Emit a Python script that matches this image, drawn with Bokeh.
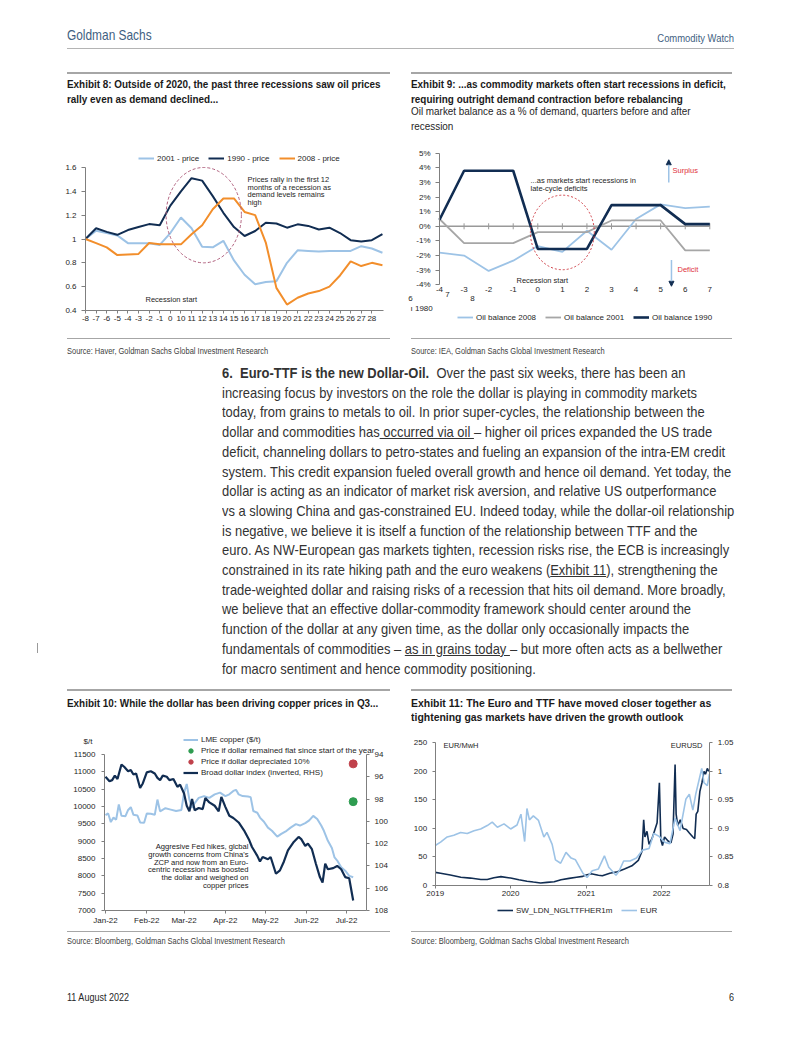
import datetime as dt
import pandas as pd
from bokeh.plotting import figure
from bokeh.layouts import column, row
from bokeh.models import (Div, Range1d, LinearAxis, DatetimeAxis, FixedTicker, SingleIntervalTicker,
                          PrintfTickFormatter, DatetimeTickFormatter, Legend, LegendItem,
                          Label, Arrow, NormalHead)
from bokeh.embed import file_html
from bokeh.resources import INLINE

CF = "Liberation Sans"
SANS = "'Liberation Sans',Arial,sans-serif"

# ---------------- Exhibit 8 data ----------------
ex8_labels = ["-8", "-7", "-6", "-5", "-4", "-3", "-2", "-1", "0", "10", "11", "12", "13", "14",
              "15", "16", "17", "18", "19", "20", "21", "22", "23", "24", "25", "26", "27", "28"]
ex8_2001 = [1.00, 1.07, 1.05, 1.03, 0.965, 0.965, 0.965, 0.95, 1.05, 1.18, 1.09, 0.935, 0.93, 0.985,
            0.82, 0.70, 0.62, 0.64, 0.645, 0.80, 0.905, 0.90, 0.895, 0.90, 0.90, 0.90, 0.94, 0.92, 0.885]
ex8_1990 = [1.00, 1.09, 1.06, 1.035, 1.075, 1.10, 1.125, 1.115, 1.28, 1.40, 1.51, 1.49, 1.36, 1.22,
            1.10, 1.025, 1.067, 1.137, 1.13, 1.095, 1.123, 1.11, 1.08, 1.095, 1.05, 0.99, 0.98, 0.99, 1.04]
ex8_2008 = [1.00, 0.965, 0.93, 0.865, 0.87, 0.875, 0.967, 0.955, 0.955, 0.955, 1.04, 1.115, 1.25, 1.34,
            1.34, 1.227, 1.20, 0.97, 0.59, 0.45, 0.507, 0.543, 0.563, 0.60, 0.694, 0.812, 0.773, 0.80, 0.78]
ex8_note = ["Prices rally in the first 12", "months of a recession as", "demand levels remains", "high"]

# ---------------- Exhibit 9 data ----------------
ex9_q = [-4, -3, -2, -1, 0, 1, 2, 3, 4, 5, 6, 7]
ex9_2008 = [-1.8, -2.0, -3.05, -2.35, -1.35, -1.75, -0.3, -1.6, 0.5, 1.5, 1.25, 1.35]
ex9_2001 = [0.5, -1.15, -1.15, -1.15, -0.4, -0.4, -0.4, 0.4, 0.4, 0.4, -1.65, -1.65]
ex9_1990 = [0.45, 3.8, 3.8, 3.8, -1.55, -1.55, -1.55, 1.45, 1.45, 1.45, 0.15, 0.15]
ex9_note = ["...as markets start recessions in", "late-cycle deficits"]

# ---------------- Exhibit 10 data ----------------
ex10_cu_dates = ["2022-01-01", "2022-01-03", "2022-01-05", "2022-01-07", "2022-01-09", "2022-01-11",
                 "2022-01-13", "2022-01-16", "2022-01-18", "2022-01-20", "2022-01-22", "2022-01-25",
                 "2022-01-27", "2022-01-30", "2022-02-01", "2022-02-04", "2022-02-07", "2022-02-09",
                 "2022-02-11", "2022-02-15", "2022-02-19", "2022-02-23", "2022-02-27", "2022-03-01",
                 "2022-03-03", "2022-03-05", "2022-03-07", "2022-03-09", "2022-03-12", "2022-03-16",
                 "2022-03-20", "2022-03-24", "2022-03-28", "2022-04-01", "2022-04-04", "2022-04-07",
                 "2022-04-09", "2022-04-11", "2022-04-14", "2022-04-18", "2022-04-20", "2022-04-22",
                 "2022-04-25", "2022-04-27", "2022-04-30", "2022-05-03", "2022-05-06", "2022-05-10",
                 "2022-05-13", "2022-05-17", "2022-05-20", "2022-05-24", "2022-05-27", "2022-05-31",
                 "2022-06-03", "2022-06-06", "2022-06-09", "2022-06-12", "2022-06-14", "2022-06-17",
                 "2022-06-20", "2022-06-22", "2022-06-24", "2022-06-27", "2022-06-30", "2022-07-03",
                 "2022-07-06"]
ex10_cu = [9750, 9800, 9550, 9680, 9620, 10060, 9730, 9720, 9900, 9980, 9760, 9740, 9540, 9530,
           9800, 9790, 9760, 10200, 9860, 9950, 9910, 9870, 9900, 10400, 10650, 10200, 9960, 10100,
           10250, 10300, 10250, 10350, 10400, 10300, 10350, 10450, 10480, 10350, 10300, 10290, 10270,
           9870, 9820, 9680, 9560, 9390, 9300, 9130, 9210, 9300, 9390, 9490, 9450, 9520, 9600, 9730,
           9640, 9450, 9300, 9010, 8800, 8530, 8440, 8250, 8150, 8000, 7960]
ex10_usd_dates = ["2022-01-01", "2022-01-04", "2022-01-06", "2022-01-08", "2022-01-10", "2022-01-13",
                  "2022-01-15", "2022-01-18", "2022-01-20", "2022-01-22", "2022-01-24", "2022-01-27",
                  "2022-01-29", "2022-02-01", "2022-02-04", "2022-02-07", "2022-02-09", "2022-02-11",
                  "2022-02-13", "2022-02-16", "2022-02-18", "2022-02-21", "2022-02-24", "2022-02-26",
                  "2022-03-01", "2022-03-03", "2022-03-05", "2022-03-07", "2022-03-09", "2022-03-12",
                  "2022-03-15", "2022-03-17", "2022-03-20", "2022-03-24", "2022-03-27", "2022-03-29",
                  "2022-04-01", "2022-04-04", "2022-04-07", "2022-04-11", "2022-04-15", "2022-04-19",
                  "2022-04-21", "2022-04-25", "2022-04-27", "2022-04-29", "2022-05-03", "2022-05-05",
                  "2022-05-09", "2022-05-12", "2022-05-15", "2022-05-18", "2022-05-22", "2022-05-26",
                  "2022-05-28", "2022-05-31", "2022-06-02", "2022-06-05", "2022-06-08", "2022-06-11",
                  "2022-06-13", "2022-06-15", "2022-06-17", "2022-06-21", "2022-06-24", "2022-06-27",
                  "2022-06-30", "2022-07-03", "2022-07-06"]
ex10_usd = [96.0, 96.4, 96.3, 95.9, 96.2, 94.9, 95.1, 95.5, 95.4, 95.8, 95.7, 97.0, 96.6, 95.6, 95.5,
            95.7, 96.1, 96.3, 95.9, 96.0, 96.3, 96.2, 96.9, 96.7, 97.5, 98.6, 99.1, 98.0, 99.0, 98.8,
            98.9, 97.9, 98.3, 98.6, 99.1, 97.8, 98.7, 99.5, 99.7, 100.1, 100.8, 101.7, 102.3, 103.1,
            103.6, 103.2, 103.4, 103.2, 104.7, 104.4, 103.6, 102.6, 101.9, 101.4, 101.6, 102.2, 102.0,
            102.5, 103.8, 105.0, 105.5, 103.8, 104.3, 104.2, 104.0, 104.3, 105.0, 105.1, 107.1]
ex10_flat_date = ["2022-07-06"]
ex10_flat = [10140]
ex10_dep_date = ["2022-07-06"]
ex10_dep = [11230]
ex10_months = ["2022-01-01", "2022-02-01", "2022-03-01", "2022-04-01", "2022-05-01", "2022-06-01", "2022-07-01"]
ex10_note = ["Aggresive Fed hikes, glcbal", "growth concerns from China's", "ZCP and now from an Euro-",
             "centric recession has boosted", "the dollar and weighed on", "copper prices"]

# ---------------- Exhibit 11 data ----------------
ex11_ttf_dates = ["2019-01-01", "2019-01-27", "2019-03-15", "2019-05-05", "2019-06-20", "2019-08-10",
                  "2019-09-10", "2019-10-12", "2019-11-15", "2020-01-01", "2020-02-10", "2020-03-20",
                  "2020-04-20", "2020-05-25", "2020-06-25", "2020-07-30", "2020-09-01", "2020-10-10",
                  "2020-11-15", "2020-12-15", "2021-01-01", "2021-01-25", "2021-03-01", "2021-03-20",
                  "2021-04-25", "2021-06-01", "2021-07-05", "2021-08-10", "2021-09-10", "2021-09-28",
                  "2021-10-06", "2021-10-12", "2021-10-22", "2021-11-01", "2021-11-15", "2021-11-25",
                  "2021-12-10", "2021-12-21", "2021-12-28", "2022-01-05", "2022-01-15", "2022-02-01",
                  "2022-02-15", "2022-02-25", "2022-03-07", "2022-03-12", "2022-03-20", "2022-04-01",
                  "2022-04-15", "2022-05-01", "2022-05-15", "2022-06-01", "2022-06-10", "2022-06-17",
                  "2022-06-25", "2022-07-05", "2022-07-15", "2022-07-25", "2022-08-01", "2022-08-10",
                  "2022-08-17"]
ex11_ttf = [23, 21.5, 18.5, 14.5, 13, 10.5, 10.5, 13.5, 15.5, 13, 10, 7.5, 6, 4.5, 5.5, 6.5, 10, 12.5,
            14.5, 16, 18.5, 20.5, 18, 17, 21.5, 24, 29, 34.5, 44, 60, 115, 85, 95, 72, 82, 93, 110, 180,
            80, 70, 85, 78, 75, 90, 212, 125, 105, 115, 100, 98, 92, 85, 82, 125, 130, 165, 180, 200,
            195, 205, 200]
ex11_eur_dates = ["2019-01-01", "2019-01-27", "2019-02-28", "2019-04-01", "2019-05-04", "2019-06-05",
                  "2019-07-08", "2019-08-09", "2019-09-10", "2019-10-04", "2019-10-29", "2019-11-30",
                  "2020-01-01", "2020-02-01", "2020-02-20", "2020-03-09", "2020-03-20", "2020-04-01",
                  "2020-04-20", "2020-05-15", "2020-06-10", "2020-06-25", "2020-07-20", "2020-08-05",
                  "2020-08-30", "2020-09-25", "2020-10-20", "2020-11-10", "2020-12-15", "2021-01-05",
                  "2021-01-30", "2021-03-01", "2021-03-30", "2021-04-20", "2021-05-25", "2021-06-10",
                  "2021-07-01", "2021-08-01", "2021-09-01", "2021-10-01", "2021-11-01", "2021-11-24",
                  "2021-12-20", "2022-01-15", "2022-02-10", "2022-03-07", "2022-03-31", "2022-04-28",
                  "2022-05-15", "2022-06-01", "2022-06-15", "2022-07-14", "2022-07-25", "2022-08-10",
                  "2022-08-20"]
ex11_eur = [0.870, 0.876, 0.885, 0.888, 0.893, 0.891, 0.896, 0.899, 0.905, 0.911, 0.902, 0.908, 0.899,
            0.906, 0.925, 0.877, 0.935, 0.915, 0.922, 0.914, 0.885, 0.893, 0.872, 0.845, 0.839, 0.858,
            0.848, 0.845, 0.822, 0.814, 0.826, 0.829, 0.852, 0.832, 0.818, 0.826, 0.843, 0.843, 0.848,
            0.862, 0.865, 0.891, 0.886, 0.876, 0.873, 0.918, 0.896, 0.951, 0.960, 0.932, 0.960, 1.005,
            0.980, 0.975, 0.995]
ex11_years = ["2019-01-01", "2020-01-01", "2021-01-01", "2022-01-01"]

# ---------------- colours ----------------
LIGHT = "#9dc3e6"
NAVY = "#112d52"
ORANGE = "#f28e2b"
GREY = "#a6a6a6"
AXIS = "#7f7f7f"


def ms(s):
    return pd.Timestamp(s).value / 10**6


def lin(da, pa, db, pb, q):
    return da + (q - pa) * (db - da) / (pb - pa)


def chart(box, xmap, ymap):
    """box = (page x0, y0, w, h); xmap/ymap = (data_a, page_a, data_b, page_b)."""
    X0, Y0, W, H = box
    xr = Range1d(lin(*xmap, X0), lin(*xmap, X0 + W))
    yr = Range1d(lin(*ymap, Y0 + H), lin(*ymap, Y0))
    p = figure(width=W, height=H, frame_width=W, frame_height=H, min_border=0,
               x_range=xr, y_range=yr, x_axis_location=None, y_axis_location=None,
               output_backend="svg", toolbar_location=None, margin=0)
    p.outline_line_color = None
    p.background_fill_color = "white"
    p.border_fill_color = "white"
    for g in p.grid:
        g.visible = False
    return p


def style_axis(ax, out=4, standoff=5):
    ax.axis_line_color = AXIS
    ax.major_tick_line_color = AXIS
    ax.major_tick_out = out
    ax.major_tick_in = 0
    ax.minor_tick_line_color = None
    ax.major_label_text_font = CF
    ax.major_label_text_font_size = "8px"
    ax.major_label_text_color = "#262626"
    ax.major_label_standoff = standoff
    return ax


def make_legend(items, loc, horizontal=True, spacing=8, glyph_w=16, h=10):
    return Legend(items=items, location=loc, orientation="horizontal" if horizontal else "vertical",
                  label_text_font=CF, label_text_font_size="8px", label_text_color="#262626",
                  glyph_width=glyph_w, glyph_height=h, label_height=h, label_standoff=3,
                  spacing=spacing, padding=0, margin=0, background_fill_alpha=0,
                  border_line_color=None)


def slabel(p, x, y, text, size="7.5px", align="left", color="#262626"):
    p.add_layout(Label(x=x, y=y, x_units="screen", y_units="screen", text=text, text_font=CF,
                       text_font_size=size, text_color=color, text_align=align, text_baseline="middle"))


# ================= Exhibit 8 =================
ex8_x = list(range(len(ex8_1990)))
p8 = chart((0, 145, 401, 188), (0, 85, 28.1, 383), (0.4, 310, 1.6, 167))
p8.add_layout(style_axis(LinearAxis(fixed_location=0.4, bounds=(0, 28.1),
                                    ticker=FixedTicker(ticks=list(range(len(ex8_labels)))),
                                    major_label_overrides={i: lab for i, lab in enumerate(ex8_labels)}),
                         out=3, standoff=2), "below")
p8.add_layout(style_axis(LinearAxis(fixed_location=0, bounds=(0.4, 1.6),
                                    ticker=SingleIntervalTicker(interval=0.2),
                                    formatter=PrintfTickFormatter(format="%.3g"))), "left")
r8a = p8.line(ex8_x, ex8_2001, line_color=LIGHT, line_width=2)
r8b = p8.line(ex8_x, ex8_1990, line_color=NAVY, line_width=2)
r8c = p8.line(ex8_x, ex8_2008, line_color=ORANGE, line_width=2)
p8.ellipse(x=[11.15], y=[1.2], width=[7.1], height=[0.8], fill_alpha=0, line_color="#b0607e",
           line_dash="3 2", line_width=1)
p8.add_layout(make_legend([LegendItem(label="2001 - price", renderers=[r8a]),
                           LegendItem(label="1990 - price", renderers=[r8b]),
                           LegendItem(label="2008 - price", renderers=[r8c])],
                          (138, 170), spacing=9))
for i, ln in enumerate(ex8_note):
    slabel(p8, 247, 333 - (179 + 7.6 * i), ln)
slabel(p8, 145, 333 - 298.5, "Recession start")

# ================= Exhibit 9 =================
p9 = chart((401, 145, 401, 188), (-4, 439, 7, 709.3), (-4, 284.3, 5, 152.7))
x9 = style_axis(LinearAxis(fixed_location=-4, bounds=(-4, 7.07), ticker=FixedTicker(ticks=ex9_q),
                           formatter=PrintfTickFormatter(format="%d")), out=0, standoff=2)
x9.axis_line_color = None
p9.add_layout(x9, "below")
p9.add_layout(style_axis(LinearAxis(fixed_location=-4, bounds=(-4, 5),
                                    ticker=SingleIntervalTicker(interval=1),
                                    formatter=PrintfTickFormatter(format="%d%%"))), "left")
p9.line(ex9_q, [0] * len(ex9_q), line_color="#999999", line_width=1.5)
p9.scatter(ex9_q, [0] * len(ex9_q), marker="dash", angle=1.5708, size=6, line_color="#999999")
r9a = p9.line(ex9_q, ex9_2008, line_color=LIGHT, line_width=1.8)
r9b = p9.line(ex9_q, ex9_2001, line_color=GREY, line_width=1.8)
r9c = p9.line(ex9_q, ex9_1990, line_color=NAVY, line_width=2.6)
p9.ellipse(x=[1.0], y=[-0.42], width=[2.6], height=[5.1], fill_alpha=0, line_color="#d0424a",
           line_dash="2 2", line_width=1)
p9.add_layout(make_legend([LegendItem(label="Oil balance 2008", renderers=[r9a]),
                           LegendItem(label="Oil balance 2001", renderers=[r9b]),
                           LegendItem(label="Oil balance 1990", renderers=[r9c])],
                          (56, 11), spacing=9))
for i, ln in enumerate(ex9_note):
    slabel(p9, 530 - 401, 333 - (180 + 7.7 * i), ln)
slabel(p9, 516 - 401, 333 - 279.5, "Recession start")
slabel(p9, 672 - 401, 333 - 170, "Surplus", color="#e0323c")
slabel(p9, 677 - 401, 333 - 269, "Deficit", color="#e0323c")
p9.add_layout(Arrow(x_start=5.33, y_start=3.0, x_end=5.33, y_end=4.55, line_color=LIGHT, line_width=1.5,
                    end=NormalHead(size=5, fill_color=NAVY, line_color=NAVY)))
p9.add_layout(Arrow(x_start=5.44, y_start=-2.3, x_end=5.44, y_end=-4.1, line_color=LIGHT, line_width=1.5,
                    end=NormalHead(size=5, fill_color=NAVY, line_color=NAVY)))
slabel(p9, 9, 35, "6", "8px", "center")
slabel(p9, 46, 39, "7", "8px", "center")
slabel(p9, 71, 35, "8", "8px", "center")
slabel(p9, 9, 25, "\u0131 1980", "8px", "left")

# ================= Exhibit 10 =================
d0 = ms("2021-12-31 06:00")
d1 = ms("2022-07-16")
p10 = chart((0, 725, 401, 205), (d0, 104, d1, 366), (7000, 910, 11500, 754))
p10.extra_y_ranges = {"rhs": Range1d(lin(108, 910, 94, 754, 930), lin(108, 910, 94, 754, 725))}
p10.add_layout(style_axis(DatetimeAxis(fixed_location=7000, bounds=(d0, d1),
                                       ticker=FixedTicker(ticks=[ms(m) for m in ex10_months]),
                                       formatter=DatetimeTickFormatter(days="%b-%y", months="%b-%y",
                                                                       years="%b-%y")),
                          out=3, standoff=2), "below")
p10.add_layout(style_axis(LinearAxis(fixed_location=d0, bounds=(7000, 11500),
                                     ticker=SingleIntervalTicker(interval=500)), out=3, standoff=5), "left")
p10.add_layout(style_axis(LinearAxis(fixed_location=d1, bounds=(94, 108), y_range_name="rhs",
                                     ticker=SingleIntervalTicker(interval=2)), out=3, standoff=4), "right")
r10a = p10.line(pd.to_datetime(ex10_cu_dates), ex10_cu, line_color=LIGHT, line_width=2)
r10d = p10.line(pd.to_datetime(ex10_usd_dates), ex10_usd, line_color=NAVY, line_width=2.2,
                y_range_name="rhs")
r10b = p10.scatter(pd.to_datetime(ex10_flat_date), ex10_flat, size=8, color="#2e9c50")
r10c = p10.scatter(pd.to_datetime(ex10_dep_date), ex10_dep, size=8, color="#c0414b")
p10.add_layout(make_legend([LegendItem(label="LME copper ($/t)", renderers=[r10a]),
                            LegendItem(label="Price if dollar remained flat since start of the year", renderers=[r10b]),
                            LegendItem(label="Price if dollar depreciated 10%", renderers=[r10c]),
                            LegendItem(label="Broad dollar index (inverted, RHS)", renderers=[r10d])],
                           (183, 152), horizontal=False, spacing=0, glyph_w=15, h=11))
slabel(p10, 83, 189, "$/t", "8px")
for i, ln in enumerate(ex10_note):
    slabel(p10, 248, 930 - (846 + 7.8 * i), ln, "7.6px", "right", "#1a1a1a")

# ================= Exhibit 11 =================
e0 = ms("2019-01-01")
e1 = ms("2022-08-22")
p11 = chart((401, 725, 401, 205), (e0, 434.7, e1, 709.3), (0, 885, 250, 742.3))
p11.extra_y_ranges = {"rhs": Range1d(lin(0.8, 885, 1.05, 742.3, 930), lin(0.8, 885, 1.05, 742.3, 725))}
p11.add_layout(style_axis(DatetimeAxis(fixed_location=0, bounds=(e0, e1),
                                       ticker=FixedTicker(ticks=[ms(y) for y in ex11_years]),
                                       formatter=DatetimeTickFormatter(days="%Y", months="%Y", years="%Y")),
                          out=3, standoff=2), "below")
p11.add_layout(style_axis(LinearAxis(fixed_location=e0, bounds=(0, 250),
                                     ticker=SingleIntervalTicker(interval=50)), out=3, standoff=4), "left")
p11.add_layout(style_axis(LinearAxis(fixed_location=e1, bounds=(0.8, 1.05), y_range_name="rhs",
                                     ticker=SingleIntervalTicker(interval=0.05),
                                     formatter=PrintfTickFormatter(format="%.3g")), out=3, standoff=4), "right")
r11a = p11.line(pd.to_datetime(ex11_ttf_dates), ex11_ttf, line_color=NAVY, line_width=1.6)
r11b = p11.line(pd.to_datetime(ex11_eur_dates), ex11_eur, line_color=LIGHT, line_width=1.6,
                y_range_name="rhs")
p11.add_layout(make_legend([LegendItem(label="SW_LDN_NGLTTFHER1m", renderers=[r11a]),
                            LegendItem(label="EUR", renderers=[r11b])],
                           (96, 15), spacing=9))
slabel(p11, 42, 185, "EUR/MwH")
slabel(p11, 301, 185, "EURUSD", align="right")


# ================= page texts (Divs) =================
def place(x0, y0, w, h, items):
    parts = []
    for (x, y, content, style) in items:
        parts.append('<div style="position:absolute;left:%.1fpx;top:%.1fpx;white-space:nowrap;%s">%s</div>'
                     % (x - x0, y - y0, style, content))
    return Div(text='<div style="position:relative;width:%dpx;height:%dpx;">%s</div>' % (w, h, "".join(parts)),
               width=w, height=h, margin=0)


def txt(x, cy, content, size, lh, color="#1a1a1a", extra="", sx=0.82, origin="left"):
    tr = "transform:scaleX(%s);transform-origin:%s center;" % (sx, origin) if sx != 1 else ""
    return (x, cy - lh / 2.0, content,
            "font-family:%s;font-size:%spx;line-height:%spx;color:%s;%s%s" % (SANS, size, lh, color, tr, extra))


def rtxt(xr, cy, content, size, lh, color="#1a1a1a", sx=0.82):
    return txt(xr - 300, cy, content, size, lh, color, "width:300px;text-align:right;", sx, "right")


def rule(x1, x2, y, color="#a6a6a6", t=1.5):
    return (x1, y, "", "width:%dpx;height:0;border-top:%spx solid %s;" % (x2 - x1, t, color))


header = place(0, 0, 802, 70, [
    txt(67, 35, "Goldman Sachs", 14.5, 18, color="#3f5f82"),
    rtxt(734, 38, "Commodity Watch", 11.5, 14, color="#3f5f82"),
    rule(67, 734, 48, "#b4b4b4", 1.5),
])

B = "font-weight:bold;"
TS = 0.9
t8 = place(0, 70, 401, 75, [
    rule(67, 390, 72, "#a6a6a6", 2),
    txt(67, 84, "Exhibit 8: Outside of 2020, the past three recessions saw oil prices", 11, 14, extra=B, sx=TS),
    txt(67, 98.5, "rally even as demand declined...", 11, 14, extra=B, sx=TS),
])
t9 = place(401, 70, 401, 75, [
    rule(411, 732, 72, "#a6a6a6", 2),
    txt(411, 84, "Exhibit 9: ...as commodity markets often start recessions in deficit,", 11, 14, extra=B, sx=TS),
    txt(411, 98.5, "requiring outright demand contraction before rebalancing", 11, 14, extra=B, sx=TS),
    txt(411, 111, "Oil market balance as a % of demand, quarters before and after", 11, 14, color="#262626", sx=TS),
    txt(411, 126, "recession", 11, 14, color="#262626", sx=TS),
])
s8 = place(0, 333, 401, 27, [
    rule(67, 390, 338, "#a6a6a6", 1.5),
    txt(67, 351, "Source: Haver, Goldman Sachs Global Investment Research", 8.5, 11, color="#404040", sx=0.88),
])
s9 = place(401, 333, 401, 27, [
    rule(411, 732, 338, "#a6a6a6", 1.5),
    txt(411, 351, "Source: IEA, Goldman Sachs Global Investment Research", 8.5, 11, color="#404040", sx=0.88),
])

U = '<span style="text-decoration:underline;">%s</span>'
body_lines = [
    '<b>6.&nbsp; Euro-TTF is the new Dollar-Oil.</b>&nbsp; Over the past six weeks, there has been an',
    'increasing focus by investors on the role the dollar is playing in commodity markets',
    'today, from grains to metals to oil. In prior super-cycles, the relationship between the',
    'dollar and commodities has' + U % '&nbsp;occurred via oil&nbsp;' + '– higher oil prices expanded the US trade',
    'deficit, channeling dollars to petro-states and fueling an expansion of the intra-EM credit',
    'system. This credit expansion fueled overall growth and hence oil demand. Yet today, the',
    'dollar is acting as an indicator of market risk aversion, and relative US outperformance',
    'vs a slowing China and gas-constrained EU. Indeed today, while the dollar-oil relationship',
    'is negative, we believe it is itself a function of the relationship between TTF and the',
    'euro. As NW-European gas markets tighten, recession risks rise, the ECB is increasingly',
    'constrained in its rate hiking path and the euro weakens (' + U % 'Exhibit 11' + '), strengthening the',
    'trade-weighted dollar and raising risks of a recession that hits oil demand. More broadly,',
    'we believe that an effective dollar-commodity framework should center around the',
    'function of the dollar at any given time, as the dollar only occasionally impacts the',
    'fundamentals of commodities – ' + U % 'as in grains today&nbsp;' + '– but more often acts as a bellwether',
    'for macro sentiment and hence commodity positioning.',
]
body_items = []
for i, ln in enumerate(body_lines):
    body_items.append(txt(222, 373 + 19.7 * i, ln, 14.5, 18, color="#333333", sx=0.893))
body_items.append((37, 643, "", "width:0;height:10px;border-left:1px solid #9a9a9a;"))
body = place(0, 360, 802, 325, body_items)

t10 = place(0, 685, 401, 40, [
    rule(67, 390, 689, "#a6a6a6", 2),
    txt(67, 703, "Exhibit 10: While the dollar has been driving copper prices in Q3...", 11, 14, extra=B, sx=TS),
])
t11 = place(401, 685, 401, 40, [
    rule(411, 732, 689, "#a6a6a6", 2),
    txt(411, 703, "Exhibit 11: The Euro and TTF have moved closer together as", 11, 14, extra=B, sx=0.95),
    txt(411, 716.5, "tightening gas markets have driven the growth outlook", 11, 14, extra=B, sx=0.95),
])
s10 = place(0, 930, 401, 20, [
    rule(67, 390, 931, "#a6a6a6", 1.5),
    txt(67, 941, "Source: Bloomberg, Goldman Sachs Global Investment Research", 8.5, 11, color="#404040", sx=0.88),
])
s11 = place(401, 930, 401, 20, [
    rule(411, 732, 931, "#a6a6a6", 1.5),
    txt(411, 941, "Source: Bloomberg, Goldman Sachs Global Investment Research", 8.5, 11, color="#404040", sx=0.88),
])
footer = place(0, 950, 802, 87, [
    txt(67, 997, "11 August 2022", 11, 14, color="#262626"),
    rtxt(734, 997, "6", 11, 14, color="#262626"),
])

left_top = column(t8, p8, s8, spacing=0, margin=0)
right_top = column(t9, p9, s9, spacing=0, margin=0)
left_bot = column(t10, p10, s10, spacing=0, margin=0)
right_bot = column(t11, p11, s11, spacing=0, margin=0)
root = column(header, row(left_top, right_top, spacing=0, margin=0), body,
              row(left_bot, right_bot, spacing=0, margin=0), footer, spacing=0, margin=0)

open("out.html", "w").write(file_html(root, INLINE))
